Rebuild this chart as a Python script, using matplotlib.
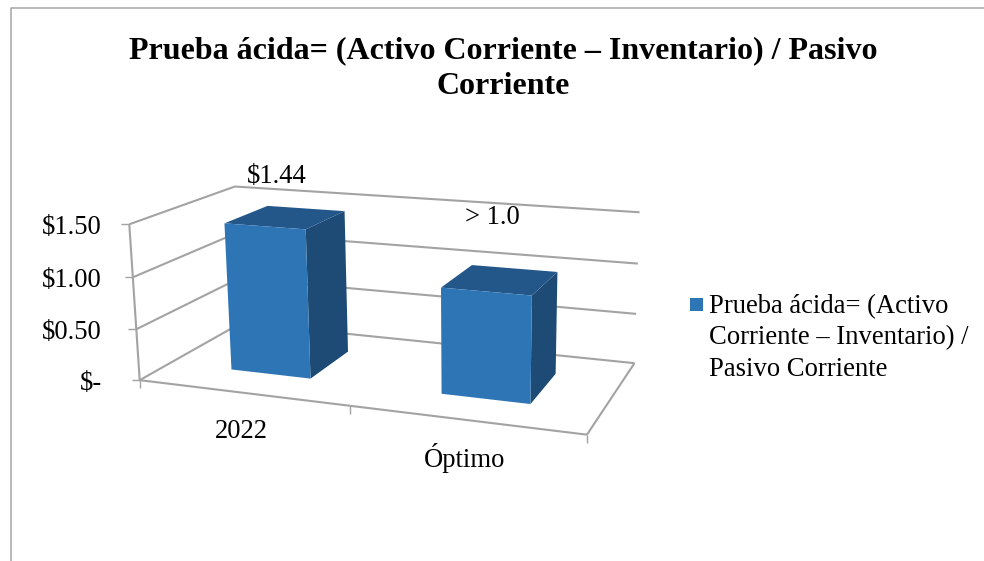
import matplotlib
matplotlib.use('Agg')
import matplotlib.pyplot as plt
from matplotlib.patches import Polygon, Rectangle
import numpy as np

categories = ['2022', 'Óptimo']
values = [1.44, 1.0]
value_labels = ['$1.44', '> 1.0']
y_ticks = [0, 0.5, 1.0, 1.5]
y_tick_labels = ['$-', '$0.50', '$1.00', '$1.50']
title_lines = ['Prueba ácida= (Activo Corriente – Inventario) / Pasivo', 'Corriente']
legend_lines = ['Prueba ácida= (Activo', 'Corriente – Inventario) /', 'Pasivo Corriente']

GRID = '#a3a3a3'
FRONT = '#2e75b6'
SIDE = '#1d4b75'
TOP = '#23578a'
FONT = 'Liberation Serif'
LABEL_SIZE = 19.2

# box corners in pixels: (category pos, value, depth) -> (px, py)
corners = [
    ((0, 0, 0), (138, 381)),
    ((0, 1.5, 0), (131, 224)),
    ((0, 0, 1), (243, 322)),
    ((0, 1.5, 1), (233, 187)),
    ((2, 1.5, 1), (640, 212)),
    ((2, 0, 1), (634, 364)),
    ((2, 0, 0), (587, 434)),
]

# fit a projective camera to the corners
A = []
b = []
for (X, Y, Z), (u, v) in corners:
    A.append([X, Y, Z, 1, 0, 0, 0, 0, -u*X, -u*Y, -u*Z])
    A.append([0, 0, 0, 0, X, Y, Z, 1, -v*X, -v*Y, -v*Z])
    b += [u, v]
P = np.linalg.lstsq(np.array(A, float), np.array(b, float), rcond=None)[0]
P = np.append(P, 1).reshape(3, 4)


def proj(x, y, z):
    p = P @ np.array([x, y, z, 1.0])
    return p[0] / p[2], p[1] / p[2]


fig = plt.figure(figsize=(9.84, 5.61), dpi=100)
ax = fig.add_axes([0, 0, 1, 1])
ax.set_xlim(0, 984)
ax.set_ylim(561, 0)
ax.axis('off')

# chart frame
ax.plot([10.5, 10.5, 984], [561, 7.5, 7.5], color='#a6a6a6', lw=1.1)


def line(p1, p2, lw=1.5):
    ax.plot([p1[0], p2[0]], [p1[1], p2[1]], color=GRID, lw=lw, solid_capstyle='butt')


# walls and gridlines
for t in y_ticks:
    line(proj(0, t, 0), proj(0, t, 1))
    line(proj(0, t, 1), proj(2, t, 1))
line(proj(0, 0, 0), proj(0, 1.5, 0))
line(proj(0, 0, 0), proj(2, 0, 0))
line(proj(2, 0, 0), proj(2, 0, 1))

# ticks
for t, lab in zip(y_ticks, y_tick_labels):
    px, py = proj(0, t, 0)
    line((px - 8, py), (px, py), lw=1.0)
    ax.text(102, py + 3, lab, family=FONT, fontsize=LABEL_SIZE, ha='right', va='center')
for i in range(3):
    px, py = proj(i, 0, 0)
    line((px, py), (px, py + 8), lw=1.0)

# bars
for i, val in enumerate(values):
    x0, x1 = i + 0.31, i + 0.70
    z0, z1 = 0.28, 0.72
    ax.add_patch(Polygon([proj(x1, 0, z0), proj(x1, 0, z1), proj(x1, val, z1), proj(x1, val, z0)],
                         facecolor=SIDE, edgecolor='none', zorder=3))
    ax.add_patch(Polygon([proj(x0, val, z0), proj(x1, val, z0), proj(x1, val, z1), proj(x0, val, z1)],
                         facecolor=TOP, edgecolor='none', zorder=3))
    ax.add_patch(Polygon([proj(x0, 0, z0), proj(x1, 0, z0), proj(x1, val, z0), proj(x0, val, z0)],
                         facecolor=FRONT, edgecolor='none', zorder=4))

# text
ax.text(503, 51, title_lines[0], family=FONT, fontsize=23, fontweight='bold', ha='center', va='center')
ax.text(503, 86, title_lines[1], family=FONT, fontsize=23, fontweight='bold', ha='center', va='center')

for lab, (tx, ty) in zip(value_labels, [(277, 176), (492, 217)]):
    ax.text(tx, ty, lab, family=FONT, fontsize=LABEL_SIZE, ha='center', va='center', zorder=5)
for lab, (tx, ty) in zip(categories, [(241, 431), (465, 458)]):
    ax.text(tx, ty, lab, family=FONT, fontsize=LABEL_SIZE, ha='center', va='center')

ax.add_patch(Rectangle((690, 298), 13, 13, facecolor=FRONT, edgecolor='none'))
for k, lab in enumerate(legend_lines):
    ax.text(709, 307 + 31 * k, lab, family=FONT, fontsize=LABEL_SIZE, ha='left', va='center')

fig.savefig('out.png', dpi=100)
